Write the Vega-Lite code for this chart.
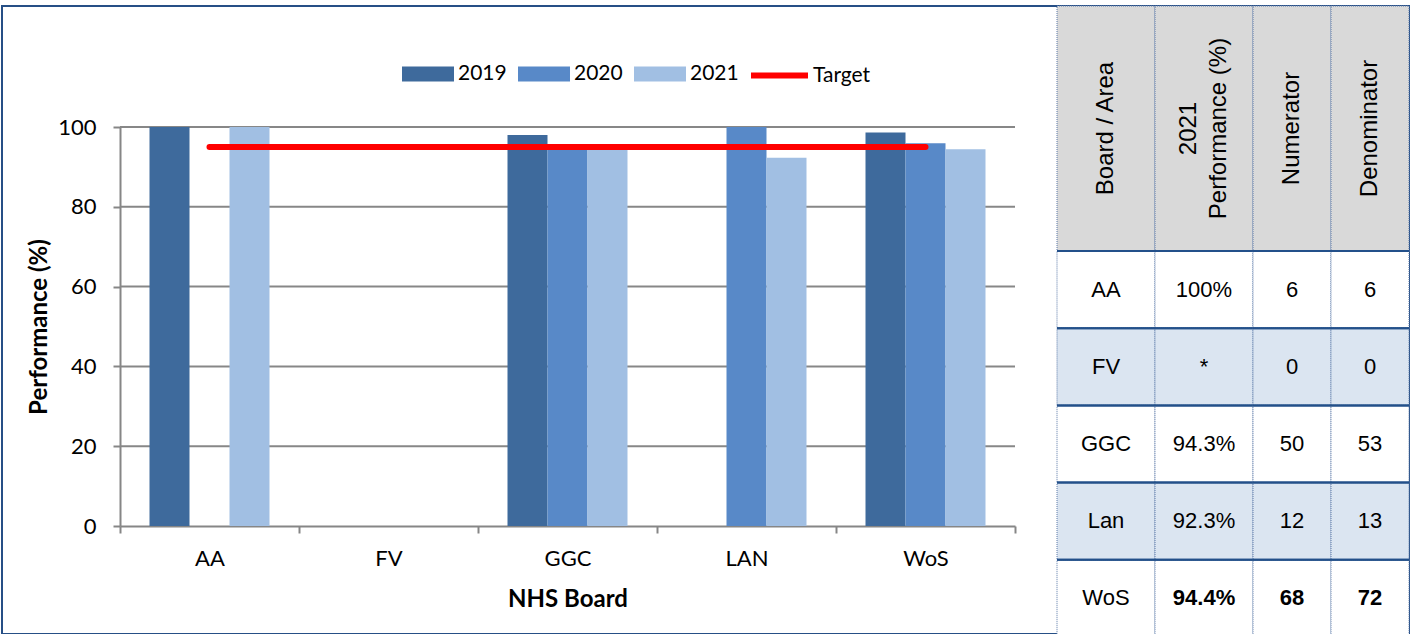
{
  "$schema": "https://vega.github.io/schema/vega-lite/v6.json",
  "width": 1407,
  "height": 628,
  "autosize": {"type": "none"},
  "padding": {"left": 2, "top": 6, "right": 4, "bottom": 0},
  "background": "white",
  "view": {"stroke": "#264F86", "strokeWidth": 2},
  "config": {
    "font": "Lato",
    "axis": {
      "labelFont": "Lato", "titleFont": "Lato", "labelColor": "black", "titleColor": "black",
      "domainColor": "#868686", "tickColor": "#868686", "domainWidth": 2, "tickWidth": 2,
      "labelFontSize": 22, "titleFontSize": 24, "titleFontWeight": "bold", "grid": false
    },
    "legend": {"labelFont": "Lato", "labelFontSize": 21, "labelColor": "black"}
  },
  "datasets": {
    "bars": [
      {"board": "AA", "year": "2019", "value": 100},
      {"board": "AA", "year": "2021", "value": 100},
      {"board": "GGC", "year": "2019", "value": 98.0},
      {"board": "GGC", "year": "2020", "value": 94.8},
      {"board": "GGC", "year": "2021", "value": 94.3},
      {"board": "LAN", "year": "2020", "value": 100},
      {"board": "LAN", "year": "2021", "value": 92.3},
      {"board": "WoS", "year": "2019", "value": 98.6},
      {"board": "WoS", "year": "2020", "value": 95.9},
      {"board": "WoS", "year": "2021", "value": 94.4}
    ],
    "target": [
      {"board": "AA", "target": 95},
      {"board": "FV", "target": 95},
      {"board": "GGC", "target": 95},
      {"board": "LAN", "target": 95},
      {"board": "WoS", "target": 95}
    ],
    "grid": [{"g": 20}, {"g": 40}, {"g": 60}, {"g": 80}, {"g": 100}],
    "table": [
      {"board": "AA", "perf": "100%", "num": "6", "den": "6"},
      {"board": "FV", "perf": "*", "num": "0", "den": "0"},
      {"board": "GGC", "perf": "94.3%", "num": "50", "den": "53"},
      {"board": "Lan", "perf": "92.3%", "num": "12", "den": "13"},
      {"board": "WoS", "perf": "94.4%", "num": "68", "den": "72"}
    ],
    "header": [
      {"col": "board", "label": ["Board / Area"]},
      {"col": "perf", "label": ["2021", "Performance (%)"]},
      {"col": "num", "label": ["Numerator"]},
      {"col": "den", "label": ["Denominator"]}
    ]
  },
  "layer": [
    {
      "layer": [
        {
          "data": {"name": "grid"},
          "mark": {"type": "rule", "color": "#878787", "strokeWidth": 2},
          "encoding": {
            "y": {"field": "g", "type": "quantitative", "title": "Performance (%)"},
            "x": {"datum": "AA", "bandPosition": 0, "title": "NHS Board"},
            "x2": {"datum": "WoS", "bandPosition": 1}
          }
        },
        {
          "data": {"name": "bars"},
          "mark": {"type": "bar"},
          "encoding": {
            "x": {
              "field": "board", "type": "nominal", "title": "NHS Board",
              "scale": {"domain": ["AA", "FV", "GGC", "LAN", "WoS"], "range": [118, 1013], "paddingInner": 0, "paddingOuter": 0},
              "axis": {"offset": -108, "tickBand": "extent", "tickSize": 7, "labelPadding": 25, "labelAngle": 0, "labelAlign": "center", "titlePadding": 18}
            },
            "xOffset": {"field": "year", "type": "nominal", "scale": {"domain": ["2019", "2020", "2021"], "paddingInner": 0, "paddingOuter": 0.7375}},
            "y": {
              "field": "value", "type": "quantitative", "title": "Performance (%)",
              "scale": {"domain": [0, 100], "range": [520, 121], "nice": false},
              "axis": {"offset": -118, "values": [0, 20, 40, 60, 80, 100], "tickSize": 7, "labelPadding": 17, "titlePadding": 6}
            },
            "fill": {
              "field": "year", "type": "nominal",
              "scale": {"domain": ["2019", "2020", "2021"], "range": ["#3E6A9C", "#5889C8", "#A1BFE3"]},
              "legend": {
                "title": null, "orient": "none", "legendX": 400, "legendY": 42, "direction": "horizontal",
                "symbolType": "M-1,-0.29H1V0.29H-1Z", "symbolSize": 2704, "symbolStrokeWidth": 0,
                "labelOffset": 4, "columnPadding": 11, "padding": 0
              }
            }
          }
        },
        {
          "data": {"name": "target"},
          "mark": {"type": "line", "strokeWidth": 6, "strokeCap": "round"},
          "encoding": {
            "x": {"field": "board", "type": "nominal", "title": "NHS Board"},
            "y": {"field": "target", "type": "quantitative", "title": "Performance (%)"},
            "stroke": {
              "datum": "Target", "type": "nominal",
              "scale": {"range": ["#FF0000"]},
              "legend": {
                "title": null, "orient": "none", "legendX": 746, "legendY": 38,
                "symbolType": "stroke", "symbolSize": 3249, "symbolStrokeWidth": 6,
                "labelOffset": 2, "padding": 0
              }
            }
          }
        }
      ]
    },
    {
      "data": {"name": "header"},
      "transform": [{"filter": "datum.col === 'board' || datum.col === 'perf'"}],
      "encoding": {
        "x": {"field": "col", "type": "nominal", "axis": null, "scale": {"domain": ["board", "perf"], "range": [1055, 1251], "paddingInner": 0, "paddingOuter": 0}},
        "y": {"datum": "h", "type": "nominal", "axis": null, "scale": {"domain": ["h"], "range": [0, 245], "paddingInner": 0, "paddingOuter": 0}}
      },
      "layer": [
        {"mark": {"type": "rect", "fill": "#D9D9D9", "stroke": "#5B79A8", "strokeDash": [1, 1], "strokeWidth": 1}},
        {"transform": [{"filter": "datum.col === 'board'"}],
         "mark": {"type": "text", "angle": 270, "font": "Liberation Sans", "fontSize": 24, "baseline": "middle", "align": "center", "color": "black"},
         "encoding": {"text": {"field": "label"}}},
        {"transform": [{"filter": "datum.col === 'perf'"}],
         "mark": {"type": "text", "angle": 270, "font": "Liberation Sans", "fontSize": 24, "lineHeight": 30, "dy": -15, "baseline": "middle", "align": "center", "color": "black"},
         "encoding": {"text": {"field": "label"}}}
      ]
    },
    {
      "data": {"name": "header"},
      "transform": [{"filter": "datum.col === 'num' || datum.col === 'den'"}],
      "encoding": {
        "x": {"field": "col", "type": "nominal", "axis": null, "scale": {"domain": ["num", "den"], "range": [1251, 1407], "paddingInner": 0, "paddingOuter": 0}},
        "y": {"datum": "h", "type": "nominal", "axis": null, "scale": {"domain": ["h"], "range": [0, 245], "paddingInner": 0, "paddingOuter": 0}}
      },
      "layer": [
        {"mark": {"type": "rect", "fill": "#D9D9D9", "stroke": "#5B79A8", "strokeDash": [1, 1], "strokeWidth": 1}},
        {"mark": {"type": "text", "angle": 270, "font": "Liberation Sans", "fontSize": 24, "baseline": "middle", "align": "center", "color": "black"},
         "encoding": {"text": {"field": "label"}}}
      ]
    },
    {
      "data": {"name": "table"},
      "transform": [{"fold": ["board", "perf"], "as": ["col", "val"]}],
      "encoding": {
        "x": {"field": "col", "type": "nominal", "axis": null, "scale": {"domain": ["board", "perf"], "range": [1055, 1251], "paddingInner": 0, "paddingOuter": 0}},
        "y": {"field": "board", "type": "nominal", "axis": null, "scale": {"domain": ["AA", "FV", "GGC", "Lan", "WoS"], "range": [245, 631], "paddingInner": 0, "paddingOuter": 0}}
      },
      "layer": [
        {"mark": {"type": "rect", "stroke": "#5B79A8", "strokeDash": [1, 1], "strokeWidth": 1},
         "encoding": {"fill": {"condition": {"test": "datum.board === 'FV' || datum.board === 'Lan'", "value": "#DBE5F1"}, "value": "white"}}},
        {"transform": [{"filter": "!(datum.board === 'WoS' && datum.col === 'perf')"}],
         "mark": {"type": "text", "font": "Liberation Sans", "fontSize": 22, "baseline": "middle", "align": "center", "color": "black"},
         "encoding": {"text": {"field": "val"}}},
        {"transform": [{"filter": "datum.board === 'WoS' && datum.col === 'perf'"}],
         "mark": {"type": "text", "font": "Liberation Sans", "fontSize": 22, "fontWeight": "bold", "baseline": "middle", "align": "center", "color": "black"},
         "encoding": {"text": {"field": "val"}}},
        {"mark": {"type": "rule", "color": "#23508A", "strokeWidth": 2},
         "encoding": {
           "y": {"field": "board", "type": "nominal", "bandPosition": 0},
           "x": {"datum": "board", "bandPosition": 0},
           "x2": {"datum": "perf", "bandPosition": 1}
         }}
      ]
    },
    {
      "data": {"name": "table"},
      "transform": [{"fold": ["num", "den"], "as": ["col", "val"]}],
      "encoding": {
        "x": {"field": "col", "type": "nominal", "axis": null, "scale": {"domain": ["num", "den"], "range": [1251, 1407], "paddingInner": 0, "paddingOuter": 0}},
        "y": {"field": "board", "type": "nominal", "axis": null, "scale": {"domain": ["AA", "FV", "GGC", "Lan", "WoS"], "range": [245, 631], "paddingInner": 0, "paddingOuter": 0}}
      },
      "layer": [
        {"mark": {"type": "rect", "stroke": "#5B79A8", "strokeDash": [1, 1], "strokeWidth": 1},
         "encoding": {"fill": {"condition": {"test": "datum.board === 'FV' || datum.board === 'Lan'", "value": "#DBE5F1"}, "value": "white"}}},
        {"transform": [{"filter": "datum.board !== 'WoS'"}],
         "mark": {"type": "text", "font": "Liberation Sans", "fontSize": 22, "baseline": "middle", "align": "center", "color": "black"},
         "encoding": {"text": {"field": "val"}}},
        {"transform": [{"filter": "datum.board === 'WoS'"}],
         "mark": {"type": "text", "font": "Liberation Sans", "fontSize": 22, "fontWeight": "bold", "baseline": "middle", "align": "center", "color": "black"},
         "encoding": {"text": {"field": "val"}}},
        {"mark": {"type": "rule", "color": "#23508A", "strokeWidth": 2},
         "encoding": {
           "y": {"field": "board", "type": "nominal", "bandPosition": 0},
           "x": {"datum": "num", "bandPosition": 0},
           "x2": {"datum": "den", "bandPosition": 1}
         }}
      ]
    }
  ],
  "resolve": {"scale": {"x": "independent", "y": "independent"}, "axis": {"x": "independent", "y": "independent"}}
}
